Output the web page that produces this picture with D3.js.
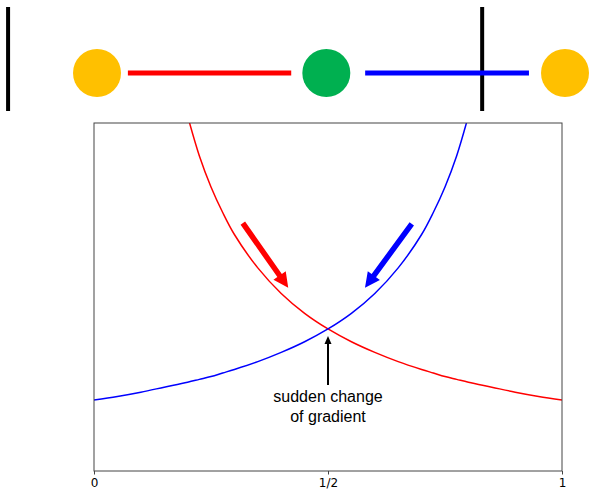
<!DOCTYPE html>
<html>
<head>
<meta charset="utf-8">
<script src="https://cdn.jsdelivr.net/npm/d3@7"></script>
<style>
  body { margin: 0; background: #fff; }
  svg { display: block; }
</style>
</head>
<body>
<svg id="chart"></svg>
<script>
var w = 589, h = 496;
var margin = {top: 123, right: 27, bottom: 25, left: 94};

// (y: 1 unit = value at the far ends)
var xs       = [0, 0.05, 0.1, 0.15, 0.2, 0.225, 0.25, 0.275, 0.3, 0.35, 0.4, 0.45, 0.5, 0.55, 0.6, 0.65, 0.7, 0.725, 0.75, 0.775, 0.8, 0.85, 0.9, 0.95, 1];
var redVals  = [null, null, null, null, 5.0, 4.44, 4.0, 3.64, 3.33, 2.86, 2.5, 2.22, 2.0, 1.82, 1.67, 1.54, 1.43, 1.38, 1.33, 1.29, 1.25, 1.18, 1.11, 1.05, 1.0];
var blueVals = [1.0, 1.05, 1.11, 1.18, 1.25, 1.29, 1.33, 1.38, 1.43, 1.54, 1.67, 1.82, 2.0, 2.22, 2.5, 2.86, 3.33, 3.64, 4.0, 4.44, 5.0, null, null, null, null];
var tickVals   = [0, 0.5, 1];
var tickLabels = ["0", "1/2", "1"];

// top diagram: positions along a 0..1 line
var nodes = [
  {pos: 0,    color: "#FFC000"},
  {pos: 0.49, color: "#00B050"},
  {pos: 1,    color: "#FFC000"}
];
var links = [
  {from: 0.066, to: 0.415, color: "#FF0000"},
  {from: 0.573, to: 0.923, color: "#0000FF"}
];
var bars = [-0.19, 0.823];

// arrows (data coords): [x0, y0, x1, y1]
var arrows = [
  {p: [0.318, 3.49, 0.415, 2.58], color: "#FF0000", shaft: 5.5, head: 15, len: 15},
  {p: [0.679, 3.48, 0.579, 2.58], color: "#0000FF", shaft: 5.5, head: 15, len: 15},
  {p: [0.5, 1.21, 0.5, 1.90], color: "#000", shaft: 2, head: 7, len: 8}
];
var note = ["sudden change", "of gradient"];

var svg = d3.select("#chart").attr("width", w).attr("height", h);

var x = d3.scaleLinear().domain([0, 1]).range([margin.left, w - margin.right]);
var y = d3.scaleLinear().domain([0, 4.9]).range([h - margin.bottom, margin.top]);
var xTop = d3.scaleLinear().domain([0, 1]).range([97, 565]);

// --- top diagram
svg.append("g").selectAll("rect")
  .data(bars)
  .enter().append("rect")
  .attr("x", function(d) { return xTop(d) - 2; })
  .attr("y", 7)
  .attr("width", 4)
  .attr("height", 104)
  .style("fill", "#000");

svg.append("g").selectAll("line")
  .data(links)
  .enter().append("line")
  .attr("x1", function(d) { return xTop(d.from); })
  .attr("x2", function(d) { return xTop(d.to); })
  .attr("y1", 73).attr("y2", 73)
  .style("stroke", function(d) { return d.color; })
  .style("stroke-width", 5);

svg.append("g").selectAll("circle")
  .data(nodes)
  .enter().append("circle")
  .attr("cx", function(d) { return xTop(d.pos); })
  .attr("cy", 73)
  .attr("r", 24)
  .style("fill", function(d) { return d.color; });

// --- plot
svg.append("defs").append("clipPath").attr("id", "clip")
  .append("rect")
  .attr("x", x(0)).attr("y", y(4.9))
  .attr("width", x(1) - x(0)).attr("height", y(0) - y(4.9));

var line = d3.line()
  .defined(function(d) { return d[1] != null; })
  .x(function(d) { return x(d[0]); })
  .y(function(d) { return y(d[1]); })
  .curve(d3.curveCatmullRom.alpha(0.5));

var curves = svg.append("g").attr("clip-path", "url(#clip)");
curves.append("path")
  .datum(xs.map(function(v, i) { return [v, redVals[i]]; }))
  .attr("d", line)
  .style("fill", "none").style("stroke", "#FF0000").style("stroke-width", 1.5);
curves.append("path")
  .datum(xs.map(function(v, i) { return [v, blueVals[i]]; }))
  .attr("d", line)
  .style("fill", "none").style("stroke", "#0000FF").style("stroke-width", 1.5);

// frame
svg.append("rect")
  .attr("x", x(0)).attr("y", y(4.9))
  .attr("width", x(1) - x(0)).attr("height", y(0) - y(4.9))
  .style("fill", "none").style("stroke", "#444").style("stroke-width", 1);

var xAxis = svg.append("g")
  .attr("transform", "translate(0," + y(0) + ")")
  .call(d3.axisBottom(x).tickValues(tickVals)
    .tickFormat(function(d, i) { return tickLabels[i]; })
    .tickSize(3.5).tickPadding(4));
xAxis.select(".domain").remove();
xAxis.selectAll("line").style("stroke", "#444");
xAxis.selectAll("text")
  .style("font-family", "'DejaVu Sans', sans-serif")
  .style("font-size", "12px")
  .style("fill", "#000");

// arrows
function arrowPath(a) {
  var x0 = x(a.p[0]), y0 = y(a.p[1]), x1 = x(a.p[2]), y1 = y(a.p[3]);
  var dx = x1 - x0, dy = y1 - y0, L = Math.sqrt(dx * dx + dy * dy);
  var ux = dx / L, uy = dy / L, nx = -uy, ny = ux;
  var bx = x1 - ux * a.len, by = y1 - uy * a.len;
  var s = a.shaft / 2, hw = a.head / 2;
  var pts = [
    [x0 + nx * s, y0 + ny * s],
    [bx + nx * s, by + ny * s],
    [bx + nx * hw, by + ny * hw],
    [x1, y1],
    [bx - nx * hw, by - ny * hw],
    [bx - nx * s, by - ny * s],
    [x0 - nx * s, y0 - ny * s]
  ];
  return "M" + pts.map(function(p) { return p.join(","); }).join("L") + "Z";
}

svg.append("g").selectAll("path")
  .data(arrows)
  .enter().append("path")
  .attr("d", arrowPath)
  .style("fill", function(d) { return d.color; });

svg.append("g").selectAll("text")
  .data(note)
  .enter().append("text")
  .attr("x", x(0.5))
  .attr("y", function(d, i) { return 402 + i * 20; })
  .attr("text-anchor", "middle")
  .style("font-family", "Liberation Sans")
  .style("font-size", "16px")
  .style("fill", "#000")
  .text(function(d) { return d; });
</script>
</body>
</html>
